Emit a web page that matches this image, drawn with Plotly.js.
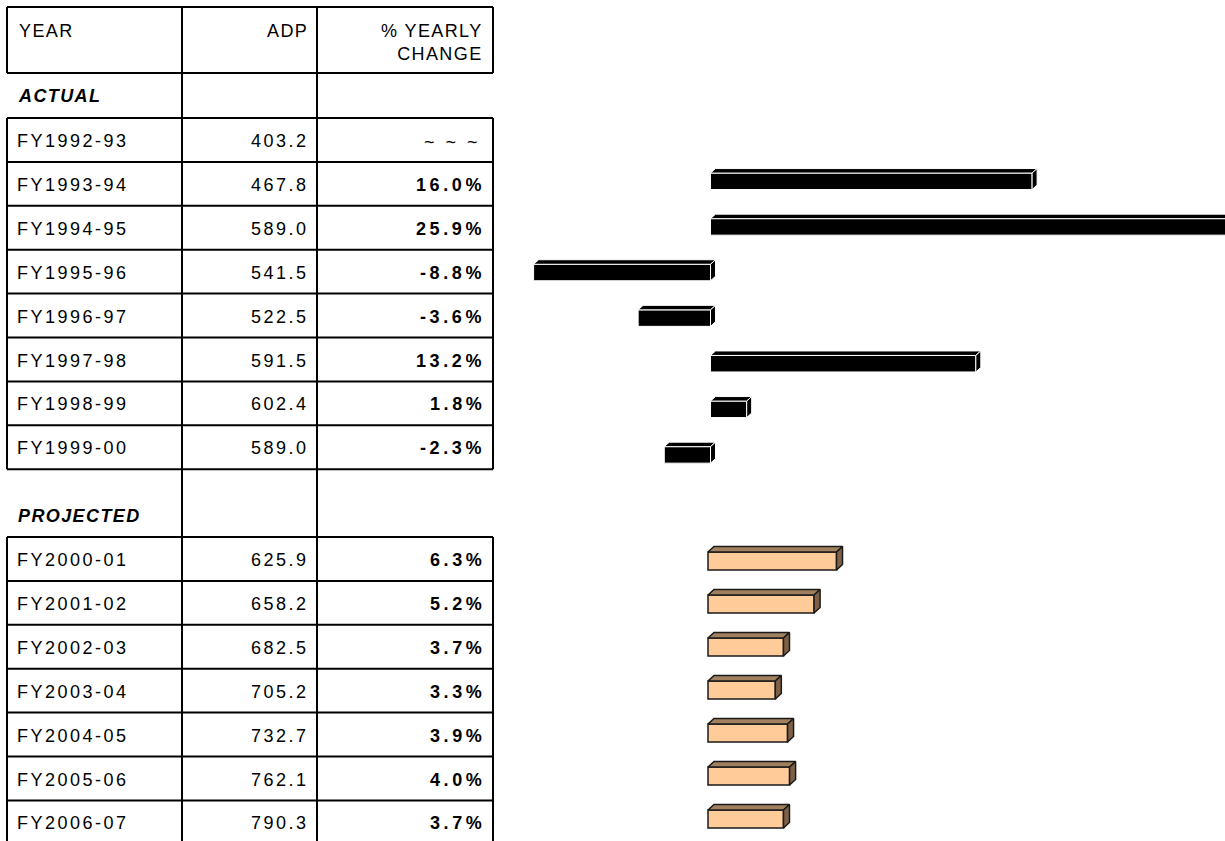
<!DOCTYPE html>
<html>
<head>
<meta charset="utf-8">
<script src="https://cdn.plot.ly/plotly-3.0.1.min.js"></script>
<style>
  html, body { margin: 0; padding: 0; background: #fff; }
  #chart { width: 1225px; height: 841px; }
</style>
</head>
<body>
<div id="chart"></div>
<script>
// ---------------- DATA ----------------
const actualYears  = ['FY1992-93','FY1993-94','FY1994-95','FY1995-96','FY1996-97','FY1997-98','FY1998-99','FY1999-00'];
const actualADP    = [403.2, 467.8, 589.0, 541.5, 522.5, 591.5, 602.4, 589.0];
const actualChange = [null, 16.0, 25.9, -8.8, -3.6, 13.2, 1.8, -2.3];

const projYears    = ['FY2000-01','FY2001-02','FY2002-03','FY2003-04','FY2004-05','FY2005-06','FY2006-07'];
const projADP      = [625.9, 658.2, 682.5, 705.2, 732.7, 762.1, 790.3];
const projChange   = [6.3, 5.2, 3.7, 3.3, 3.9, 4.0, 3.7];

const headerLabels  = ['YEAR', 'ADP', ['% YEARLY', 'CHANGE']];
const sectionLabels = ['ACTUAL', 'PROJECTED'];
const noChangeLabel = '~ ~ ~';

// ---------------- LAYOUT CONSTANTS ----------------
const W = 1225, H = 841;
const px = x => x / W;          // pixel -> paper x
const py = y => 1 - y / H;      // pixel -> paper y
const FONT = "'Liberation Sans', Arial, Helvetica, sans-serif";
const FS = 18;

const colX = [7, 182, 317, 493];
const headerTop = 7, headerBottom = 73, actualHdrBottom = 118;
const rowH = 43.9;
const projHdrBottom = 537;
const actualTop = i => actualHdrBottom + i * rowH;
const projTop = i => projHdrBottom + i * rowH;
const textOffset = 23;

const txtLeft = 17, adpRight = 308.5, pctRight = 485;

const spaced = (s, ls) => '<span style="letter-spacing:' + ls + 'px">' + s + '</span>';

// ---------------- TABLE (shapes + annotations) ----------------
const shapes = [];
const line = (x0, y0, x1, y1) => shapes.push({
  type: 'line', xref: 'paper', yref: 'paper',
  x0: px(x0), y0: py(y0), x1: px(x1), y1: py(y1),
  line: { color: '#000', width: 2 }
});
// horizontal rules
const hLines = [headerTop, headerBottom, actualHdrBottom];
for (let i = 1; i <= actualYears.length; i++) hLines.push(actualTop(i));
hLines.push(projHdrBottom);
for (let i = 1; i < projYears.length; i++) hLines.push(projTop(i));
hLines.forEach(y => line(colX[0], y, colX[3], y));
// inner column rules run the whole height
[colX[1], colX[2]].forEach(x => line(x, headerTop, x, H));
// outer borders (open at section-title rows)
[colX[0], colX[3]].forEach(x => {
  line(x, headerTop, x, headerBottom);
  line(x, actualHdrBottom, x, actualTop(actualYears.length));
  line(x, projHdrBottom, x, H);
});

const annotations = [];
const txt = (text, x, y, anchor, font) => annotations.push({
  text, x: px(x), y: py(y), xref: 'paper', yref: 'paper',
  xanchor: anchor, yanchor: 'middle', showarrow: false,
  borderpad: 0, borderwidth: 0, align: anchor,
  font: Object.assign({ family: FONT, size: FS, color: '#000' }, font || {})
});

const pctLabel = v => spaced(v.toFixed(1) + '%', 3.6);
const reg = s => spaced(s, 2.5);
const hdr = s => spaced(s, 1.4);

// header
txt(hdr(headerLabels[0]), 19, 31, 'left');
txt(hdr(headerLabels[1]), 307.5, 31, 'right');
txt(headerLabels[2].map(hdr).join('<br>'), 483, 43, 'right');
// section titles
const bi = { weight: 700, style: 'italic' };
txt(hdr(sectionLabels[0]), 18, 96, 'left', bi);
txt(hdr(sectionLabels[1]), 18, 515.5, 'left', bi);
// actual rows
actualYears.forEach((yr, i) => {
  const yc = actualTop(i) + textOffset;
  txt(reg(yr), txtLeft, yc, 'left');
  txt(reg(actualADP[i].toFixed(1)), adpRight, yc, 'right');
  if (actualChange[i] === null) txt(spaced(noChangeLabel, 3), 481, yc + 1, 'right');
  else txt(pctLabel(actualChange[i]), pctRight, yc, 'right', { weight: 700 });
});
// projected rows
projYears.forEach((yr, i) => {
  const yc = projTop(i) + textOffset;
  txt(reg(yr), txtLeft, yc, 'left');
  txt(reg(projADP[i].toFixed(1)), adpRight, yc, 'right');
  txt(pctLabel(projChange[i]), pctRight, yc, 'right', { weight: 700 });
});

// ---------------- 3D BARS ----------------
const traces = [];
function addBars(values, xa, ya, opt) {
  const idx = values.map((_, i) => i);
  traces.push({
    type: 'bar', orientation: 'h', x: values, y: idx,
    xaxis: xa, yaxis: ya, width: opt.w,
    marker: { color: opt.front, line: { color: opt.edge, width: opt.lw } },
    hoverinfo: 'skip'
  });
  values.forEach((v, i) => {
    if (v === null) return;
    const x0 = Math.min(0, v), x1 = Math.max(0, v);
    const yt = i - opt.w / 2, yb = i + opt.w / 2;
    // top face
    traces.push({
      type: 'scatter', mode: 'lines', fill: 'toself', xaxis: xa, yaxis: ya,
      x: [x0, x1, x1 + opt.dx, x0 + opt.dx, x0],
      y: [yt, yt, yt - opt.dy, yt - opt.dy, yt],
      fillcolor: opt.top, line: { color: opt.edge, width: opt.lw }, hoverinfo: 'skip'
    });
    // side face
    traces.push({
      type: 'scatter', mode: 'lines', fill: 'toself', xaxis: xa, yaxis: ya,
      x: [x1, x1 + opt.dx, x1 + opt.dx, x1, x1],
      y: [yt, yt - opt.dy, yb - opt.dy, yb, yt],
      fillcolor: opt.side, line: { color: opt.edge, width: opt.lw }, hoverinfo: 'skip'
    });
  });
}

// axis placement (pixels)
const barLeftPx = 514.5;
const actZero = 710.5, actScale = 20.1;      // px per %
const prjZero = 708, prjScale = 20.4;
const actRow0 = 135.7, actStep = 45.6;        // bar row centres
const prjRow0 = 561, prjStep = 43.0;

addBars(actualChange, 'x', 'y2', {
  w: 16.5 / actStep, dx: 5 / actScale, dy: 4.5 / actStep,
  front: '#000', top: '#000', side: '#000', edge: '#fff', lw: 1
});
addBars(projChange, 'x2', 'y3', {
  w: 18 / prjStep, dx: 6 / prjScale, dy: 5.5 / prjStep,
  front: '#FFCC99', top: '#A0805E', side: '#7D6046', edge: '#1a1a1a', lw: 1.5
});

const nA = actualYears.length, nP = projYears.length;
const hidden = { visible: false, showgrid: false, zeroline: false, fixedrange: true };
const layout = {
  width: W, height: H,
  margin: { l: 0, r: 0, t: 0, b: 0, pad: 0 },
  paper_bgcolor: '#fff', plot_bgcolor: 'rgba(0,0,0,0)',
  showlegend: false, hovermode: false, barmode: 'overlay',
  xaxis: Object.assign({}, hidden, {
    domain: [px(barLeftPx), 1], anchor: 'y2',
    range: [-(actZero - barLeftPx) / actScale, (W - actZero) / actScale]
  }),
  xaxis2: Object.assign({}, hidden, {
    domain: [px(barLeftPx), 1], anchor: 'y3',
    range: [-(prjZero - barLeftPx) / prjScale, (W - prjZero) / prjScale]
  }),
  yaxis2: Object.assign({}, hidden, {
    anchor: 'x',
    domain: [py(actRow0 + (nA - 0.5) * actStep), py(actRow0 - 0.5 * actStep)],
    range: [nA - 0.5, -0.5]
  }),
  yaxis3: Object.assign({}, hidden, {
    anchor: 'x2',
    domain: [Math.max(0, py(prjRow0 + (nP - 0.5) * prjStep)), py(prjRow0 - 0.5 * prjStep)],
    range: [nP - 0.5, -0.5]
  }),
  shapes, annotations
};

Plotly.newPlot('chart', traces, layout, { staticPlot: true, displayModeBar: false });
</script>
</body>
</html>
